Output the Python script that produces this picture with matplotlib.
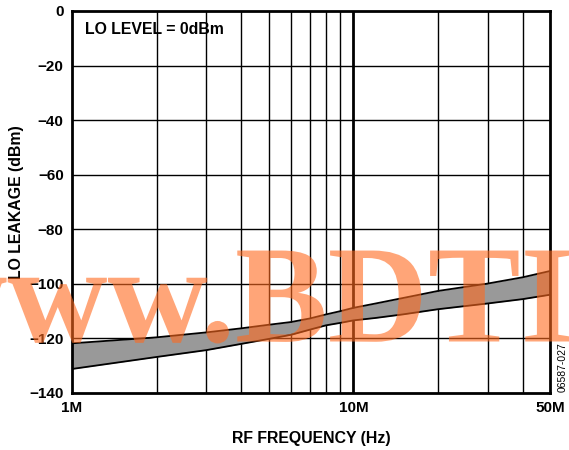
import matplotlib
matplotlib.use("Agg")
import matplotlib.pyplot as plt
from matplotlib.ticker import FixedLocator, NullFormatter
from matplotlib.textpath import TextPath
from matplotlib.patches import PathPatch
from matplotlib.font_manager import FontProperties
from matplotlib.transforms import Affine2D

plt.rcParams['font.family'] = ['Liberation Sans', 'DejaVu Sans']

# LO leakage spread vs RF frequency (MHz, dBm)
freq_mhz = [1, 2, 3, 4, 5, 6, 7, 8, 9, 10, 12, 15, 20, 30, 40, 50]
leak_upper = [-121.8, -119.6, -117.8, -116.3, -115.0, -114.0, -112.7, -111.2,
              -110.0, -108.8, -107.2, -105.2, -102.6, -99.9, -97.6, -95.3]
leak_lower = [-131.2, -126.8, -124.3, -122.0, -120.2, -118.7, -116.8, -115.2,
              -114.3, -113.4, -112.5, -111.2, -109.3, -107.2, -105.6, -104.0]

x_ticks = [1, 10, 50]
x_tick_labels = ['1M', '10M', '50M']
y_ticks = [0, -20, -40, -60, -80, -100, -120, -140]
minor_grid = [2, 3, 4, 5, 6, 7, 8, 9, 20, 30, 40]

fig = plt.figure(figsize=(5.69, 4.5), dpi=100)
ax = fig.add_axes([0.1265, 0.1267, 0.8401, 0.8489])

f = [v * 1e6 for v in freq_mhz]
ax.fill_between(f, leak_lower, leak_upper, color='#999999', lw=0, zorder=2)
ax.plot(f, leak_upper, color='black', lw=1.3, zorder=3)
ax.plot(f, leak_lower, color='black', lw=1.3, zorder=3)

ax.set_xscale('log')
ax.set_xlim(1e6, 50e6)
ax.set_ylim(-140, 0)

# grid lines, drawn by hand so the decade line can be heavier
for v in minor_grid:
    ax.axvline(v * 1e6, color='black', lw=1.0, zorder=1)
ax.axvline(10e6, color='black', lw=2.0, zorder=1)
for v in y_ticks[1:-1]:
    ax.axhline(v, color='black', lw=1.0, zorder=1)

ax.xaxis.set_major_locator(FixedLocator([v * 1e6 for v in x_ticks]))
ax.set_xticklabels(x_tick_labels)
ax.xaxis.set_minor_locator(FixedLocator([]))
ax.xaxis.set_minor_formatter(NullFormatter())
ax.set_yticks(y_ticks)
ax.set_yticklabels([str(v).replace('-', '\u2212') for v in y_ticks])
ax.tick_params(length=0, pad=6, labelsize=11)
for lbl in ax.get_xticklabels() + ax.get_yticklabels():
    lbl.set_fontweight('bold')

for s in ax.spines.values():
    s.set_linewidth(2.0)

ax.set_xlabel('RF FREQUENCY (Hz)', fontsize=11.4, fontweight='bold', labelpad=11)
ax.set_ylabel('LO LEAKAGE (dBm)', fontsize=11.4, fontweight='bold', labelpad=4)

ax.text(0.028, 0.972, 'LO LEVEL = 0dBm', transform=ax.transAxes, fontsize=11.4,
        fontweight='bold', ha='left', va='top')

fig.text(0.988, 0.128, '06587-027', rotation=90, fontsize=7.5, ha='center', va='bottom')

# watermark
wm = TextPath((0, 0), 'www.BDTI', size=100,
              prop=FontProperties(family='Liberation Serif', weight='bold'))
wm_tr = Affine2D().scale(1.0 / 72, 1.0 / 72).translate(-0.93, 1.085) + fig.dpi_scale_trans
fig.add_artist(PathPatch(wm, transform=wm_tr, facecolor='#FF6A1F', edgecolor='none',
                         alpha=0.6, zorder=5))

fig.savefig('out.png', dpi=100)
